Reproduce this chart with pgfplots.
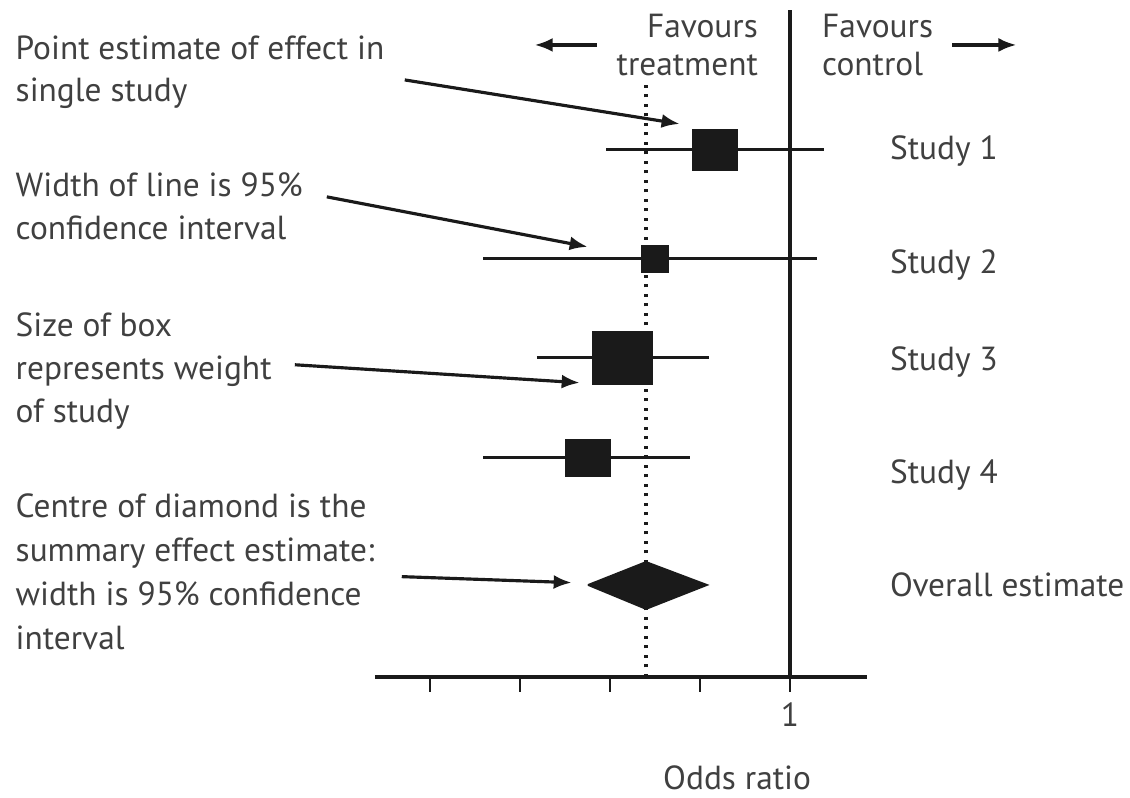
\documentclass[border=0pt]{standalone}
\usepackage{fontspec}
\setmainfont{PT Sans}
\usepackage{pgfplots}
\pgfplotsset{compat=1.18}
\usetikzlibrary{arrows.meta}
\definecolor{ink}{HTML}{1A1A1A}
\definecolor{txt}{HTML}{404040}

\begin{document}
\begin{tikzpicture}[
  note/.style={anchor=base west, text=txt, inner sep=0pt, font=\fontsize{9.5}{12}\selectfont},
  pointer/.style={-{Latex[length=0.18cm,width=0.14cm]}, ink, line width=0.9pt}]
\useasboundingbox (0,0) rectangle (11.3cm,7.98cm);
\begin{axis}[
  at={(3.75cm,1.21cm)}, anchor=south west,
  scale only axis, width=4.92cm, height=6.77cm,
  xmode=log, log basis x=2,
  xmin=0.0409, xmax=1.81, ymin=0, ymax=6.77,
  axis x line*=bottom, axis y line=none,
  x axis line style={-, line width=1pt, ink},
  xtick={0.0625,0.125,0.25,0.5,1}, xticklabels={,,,,1},
  xminorticks=false,
  tick align=outside, major tick length=0.15cm,
  xtick style={ink, line width=0.8pt},
  xticklabel style={text=txt, font=\fontsize{9.5}{12}\selectfont, anchor=base, yshift=-0.35cm},
  xlabel={Odds ratio},
  xlabel style={at={(axis description cs:0.736,0)}, anchor=base, yshift=-1.13cm,
    text=txt, font=\fontsize{9.5}{12}\selectfont},
  clip=false,
]
% reference lines: no effect (OR = 1) and pooled estimate
\addplot[ink, line width=0.9pt] coordinates {(1,0) (1,6.67)};
\addplot[ink, line width=1pt, dash pattern=on 0.03cm off 0.065cm] coordinates {(0.330,0) (0.330,5.97)};

% 95% confidence intervals
\addplot[ink, line width=0.85pt] coordinates {(0.243,5.27) (1.30,5.27)};
\addplot[ink, line width=0.85pt] coordinates {(0.094,4.18) (1.231,4.18)};
\addplot[ink, line width=0.85pt] coordinates {(0.1424,3.19) (0.536,3.19)};
\addplot[ink, line width=0.85pt] coordinates {(0.094,2.19) (0.463,2.19)};

% point estimates, box size = weight
\addplot[only marks, ink, mark=square*, mark size=0.2cm, mark options={xscale=1.1}] coordinates {(0.561,5.27)};
\addplot[only marks, ink, mark=square*, mark size=0.135cm] coordinates {(0.354,4.18)};
\addplot[only marks, ink, mark=square*, mark size=0.26cm, mark options={xscale=1.15}] coordinates {(0.276,3.19)};
\addplot[only marks, ink, mark=square*, mark size=0.18cm, mark options={xscale=1.25}] coordinates {(0.211,2.19)};

% overall estimate
\addplot[ink, fill=ink, line width=0.5pt] coordinates {(0.211,0.92) (0.330,1.15) (0.528,0.92) (0.330,0.68) (0.211,0.92)};
\end{axis}

\begin{scope}[x=0.01cm, y=-0.01cm, shift={(0,7.98cm)}]
  \node[note] at (15,60) {Point estimate of effect in};
  \node[note] at (15,102) {single study};
  \node[note] at (15,197) {Width of line is 95\%};
  \node[note] at (15,240) {confidence interval};
  \node[note] at (15,337) {Size of box};
  \node[note] at (15,380) {represents weight};
  \node[note] at (15,423) {of study};
  \node[note] at (15,518) {Centre of diamond is the};
  \node[note] at (15,562) {summary effect estimate:};
  \node[note] at (15,606) {width is 95\% confidence};
  \node[note] at (15,650) {interval};

  \node[note] at (890,160) {Study 1};
  \node[note] at (890,274) {Study 2};
  \node[note] at (890,371) {Study 3};
  \node[note] at (890,484) {Study 4};
  \node[note] at (890,597) {Overall estimate};

  \node[note, anchor=base east] at (759,38) {Favours};
  \node[note, anchor=base east] at (759,76) {treatment};
  \node[note] at (822,38) {Favours};
  \node[note] at (822,76) {control};
  \draw[pointer] (597,45) -- (535,45);
  \draw[pointer] (953,45) -- (1017,45);

  \draw[pointer] (405,80) -- (680,124);
  \draw[pointer] (327,197) -- (588,247);
  \draw[pointer] (295,365) -- (580,383);
  \draw[pointer] (402,577) -- (572,583);
\end{scope}
\end{tikzpicture}
\end{document}
